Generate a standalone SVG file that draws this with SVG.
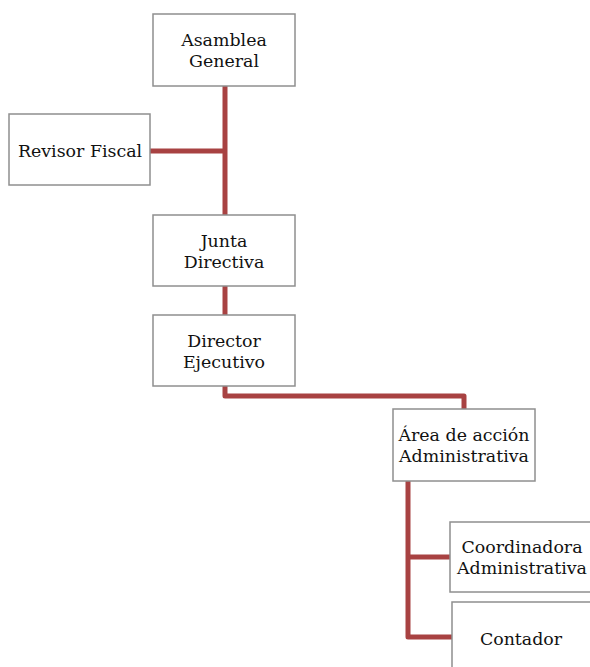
<svg xmlns="http://www.w3.org/2000/svg" width="590" height="667" viewBox="0 0 590 667">
<style>
.box{fill:#ffffff;stroke:#8f8f8f;stroke-width:1.5}
.lbl{font-family:"DejaVu Serif","Liberation Serif",serif;font-size:17.4px;fill:#111111;text-anchor:middle}
.con{fill:none;stroke:#a84242;stroke-width:5;stroke-linejoin:round}
</style>
<rect width="590" height="667" fill="#ffffff"/>
<g id="connectors">
<path class="con" d="M225 86 V215"/>
<path class="con" d="M150 151 H225"/>
<path class="con" d="M225 286 V315"/>
<path class="con" d="M225 386 V396 H464 V409"/>
<path class="con" d="M408 481 V637 H452"/>
<path class="con" d="M408 557 H450"/>
</g>
<g id="asamblea">
<rect class="box" x="153" y="14" width="142" height="72"/>
<text class="lbl" x="224" y="46">Asamblea</text>
<text class="lbl" x="224" y="67">General</text>
</g>
<g id="revisor">
<rect class="box" x="9" y="114" width="141" height="71"/>
<text class="lbl" x="80" y="157">Revisor Fiscal</text>
</g>
<g id="junta">
<rect class="box" x="153" y="215" width="142" height="71"/>
<text class="lbl" x="224" y="247">Junta</text>
<text class="lbl" x="224" y="268">Directiva</text>
</g>
<g id="director">
<rect class="box" x="153" y="315" width="142" height="71"/>
<text class="lbl" x="224" y="347">Director</text>
<text class="lbl" x="224" y="368">Ejecutivo</text>
</g>
<g id="area">
<rect class="box" x="393" y="409" width="142" height="72"/>
<text class="lbl" x="464" y="441">Área de acción</text>
<text class="lbl" x="464" y="462">Administrativa</text>
</g>
<g id="coordinadora">
<rect class="box" x="450" y="522" width="142" height="70"/>
<text class="lbl" x="522" y="553">Coordinadora</text>
<text class="lbl" x="522" y="574">Administrativa</text>
</g>
<g id="contador">
<rect class="box" x="452" y="602" width="142" height="72"/>
<text class="lbl" x="521" y="645">Contador</text>
</g>
</svg>
